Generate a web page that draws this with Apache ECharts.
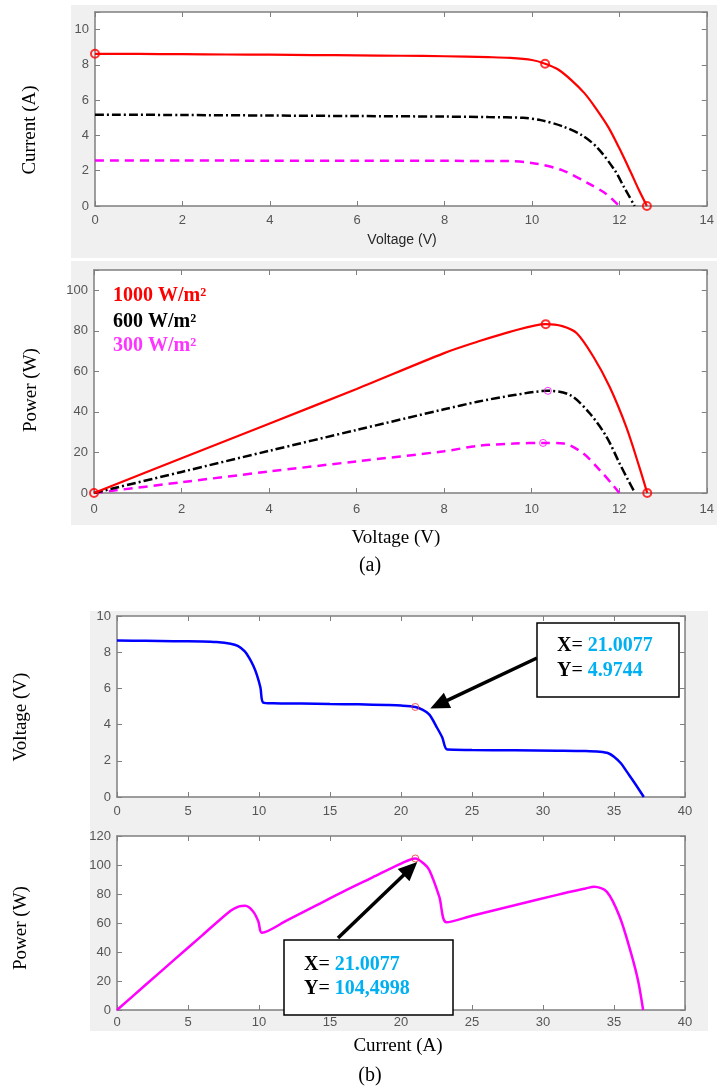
<!DOCTYPE html>
<html>
<head>
<meta charset="utf-8">
<style>
  html, body { margin: 0; padding: 0; background: #fff; }
  #chart { width: 717px; height: 1090px; }
</style>
<script src="https://cdn.jsdelivr.net/npm/echarts@6/dist/echarts.min.js"></script>
</head>
<body>
<div id="chart"></div>
<script>
// ---- (a) I-V curves, three irradiance levels ----
var ivRedV = [0, 1, 2, 3, 4, 5, 6, 7, 8, 9, 9.5, 10, 10.3, 10.6, 10.9, 11.2, 11.45, 11.75, 12.0, 12.25, 12.45, 12.63];
var ivRedI = [8.63, 8.62, 8.61, 8.59, 8.58, 8.56, 8.54, 8.52, 8.49, 8.44, 8.40, 8.28, 8.07, 7.74, 7.14, 6.40, 5.58, 4.46, 3.27, 1.97, 0.89, 0];
var ivBlkV = [0, 2, 4, 6, 8, 9, 9.8, 10.2, 10.7, 11.15, 11.5, 11.9, 12.1, 12.35];
var ivBlkI = [5.18, 5.16, 5.13, 5.10, 5.07, 5.04, 5.00, 4.87, 4.52, 4.00, 3.30, 2.00, 1.10, 0];
var ivMagV = [0, 2, 4, 6, 8, 9.4, 10.1, 10.7, 11.3, 11.7, 12.0];
var ivMagI = [2.58, 2.58, 2.57, 2.57, 2.56, 2.55, 2.40, 2.02, 1.27, 0.68, 0];
var ivMarkV = [0, 10.3, 12.63];
var ivMarkI = [8.63, 8.07, 0];

// ---- (a) P-V curves ----
var pvRedV = [0, 2, 4, 6, 8, 8.76, 9.5, 10.32, 10.7, 11.03, 11.41, 11.78, 12.16, 12.46, 12.64];
var pvRedP = [0, 17.1, 34.2, 51.3, 69.0, 74.6, 79.5, 83.3, 82.3, 78.8, 67.2, 52.4, 32.6, 12.8, 0];
var pvBlkV = [0, 2, 4, 6, 8, 8.76, 9.6, 10.37, 10.88, 11.33, 11.71, 12.01, 12.2, 12.36];
var pvBlkP = [0, 10.4, 20.8, 31.1, 41.3, 45.0, 48.3, 50.4, 48.3, 39.2, 27.7, 14.5, 6.5, 0];
var pvMagV = [0, 2, 4, 6, 8, 8.76, 9.6, 10.26, 10.73, 11.18, 11.56, 11.86, 12.0];
var pvMagP = [0, 5.3, 10.6, 15.6, 20.6, 23.2, 24.4, 24.7, 24.4, 19.5, 11.2, 3.8, 0];
var pvRedMarkV = [0, 10.32, 12.64];
var pvRedMarkP = [0, 83.3, 0];
var pvMagMarkV = [10.37, 10.26];
var pvMagMarkP = [50.4, 24.7];
var legendTexts = ['1000 W/m\u00b2', '600 W/m\u00b2', '300 W/m\u00b2'];

// ---- (b) V-I and P-I of the partially shaded string ----
var viI = [0, 2, 4, 6, 7, 8, 8.5, 9.0, 9.3, 9.6, 9.85, 10.1, 10.3, 11, 13, 15, 17, 19, 20, 21.0077, 21.5, 22.0, 22.5, 22.9, 23.27, 25, 28, 31, 33, 34, 34.6, 35.0, 35.5, 35.9, 36.5, 37.1];
var viV = [8.65, 8.63, 8.61, 8.59, 8.56, 8.47, 8.35, 8.05, 7.70, 7.25, 6.75, 6.05, 5.22, 5.18, 5.16, 5.14, 5.12, 5.08, 5.05, 4.9744, 4.83, 4.55, 3.88, 3.30, 2.62, 2.60, 2.58, 2.56, 2.54, 2.50, 2.42, 2.22, 1.85, 1.40, 0.72, 0];
var piI = [0, 2, 4, 6, 8, 8.6, 9.03, 9.6, 9.96, 10.2, 12, 14, 16, 18, 20, 21.0077, 21.6, 22.0, 22.7, 23.2, 25, 28, 31, 33, 33.6, 34.5, 35.4, 36.2, 36.7, 37.05];
var piP = [0, 17.2, 34.4, 51.5, 68.5, 71.5, 71.9, 67.8, 60.9, 53.3, 62, 72, 82, 91.5, 101, 104.4998, 101, 96.4, 78, 60.5, 65, 72.2, 79.4, 83.8, 85, 81.5, 64.3, 39.2, 20, 0];
var mppI = 21.0077, mppV = 4.9744, mppP = 104.4998;

function zip(xs, ys) { return xs.map(function (x, i) { return [x, ys[i]]; }); }

var serif = '"Liberation Serif", "Times New Roman", serif';
var sans = '"Liberation Sans", Arial, sans-serif';
var axisGray = '#7f7f7f';

var grids = [
  { left: 95, top: 12, width: 616, height: 194 },
  { left: 94, top: 270, width: 617, height: 223 },
  { left: 117, top: 616, width: 568, height: 181 },
  { left: 117, top: 836, width: 568, height: 174 }
];
var xRanges = [[0, 14, 2], [0, 14, 2], [0, 40, 5], [0, 40, 5]];
var yRanges = [[0, 11, 2], [0, 110, 20], [0, 10, 2], [0, 120, 20]];
var xMargins = [8, 10, 8, 6];

var xAxes = [], yAxes = [];
grids.forEach(function (g, i) {
  var xr = xRanges[i], yr = yRanges[i];
  var labelFmt = function (step) {
    return function (v) { return Math.abs(v / step - Math.round(v / step)) < 1e-6 ? String(v) : ''; };
  };
  [false, true].forEach(function (other) {
    xAxes.push({
      type: 'value', gridIndex: i, min: xr[0], max: xr[1], interval: xr[2],
      position: other ? 'top' : 'bottom',
      axisLine: { show: true, onZero: false, lineStyle: { color: axisGray, width: 1.5 } },
      axisTick: { show: true, inside: true, length: 5, lineStyle: { color: axisGray, width: 1 } },
      axisLabel: { show: !other, color: '#555', fontFamily: sans, fontSize: 13, margin: xMargins[i], formatter: labelFmt(xr[2]) },
      splitLine: { show: false }
    });
    yAxes.push({
      type: 'value', gridIndex: i, min: yr[0], max: yr[1], interval: yr[2],
      position: other ? 'right' : 'left',
      axisLine: { show: true, onZero: false, lineStyle: { color: axisGray, width: 1.5 } },
      axisTick: { show: true, inside: true, length: 5, lineStyle: { color: axisGray, width: 1 } },
      axisLabel: { show: !other, color: '#555', fontFamily: sans, fontSize: 13, margin: 6, formatter: labelFmt(yr[2]) },
      splitLine: { show: false }
    });
  });
});

function line(gi, data, color, width, type) {
  return {
    type: 'line', xAxisIndex: 2 * gi, yAxisIndex: 2 * gi, data: data,
    showSymbol: false, smooth: 0.3, animation: false,
    lineStyle: { color: color, width: width, type: type || 'solid' }, z: 3
  };
}
function marks(gi, data, color, size, bw) {
  return {
    type: 'scatter', xAxisIndex: 2 * gi, yAxisIndex: 2 * gi, data: data, clip: false,
    symbol: 'circle', symbolSize: size, animation: false,
    itemStyle: { color: 'transparent', borderColor: color, borderWidth: bw }, z: 5
  };
}

var dashDot = [9, 3, 2, 3];
var dashed = [9, 6];

var series = [
  line(0, zip(ivMagV, ivMagI), '#ff00ff', 2.5, dashed),
  line(0, zip(ivBlkV, ivBlkI), '#000000', 2.5, dashDot),
  line(0, zip(ivRedV, ivRedI), '#ff0000', 2.2),
  marks(0, zip(ivMarkV, ivMarkI), '#ff0000', 8, 2),
  line(1, zip(pvMagV, pvMagP), '#ff00ff', 2.5, dashed),
  line(1, zip(pvBlkV, pvBlkP), '#000000', 2.5, dashDot),
  line(1, zip(pvRedV, pvRedP), '#ff0000', 2.2),
  marks(1, zip(pvRedMarkV, pvRedMarkP), '#ff0000', 8, 2),
  marks(1, zip(pvMagMarkV, pvMagMarkP), '#ff00ff', 7, 1),
  line(2, zip(viI, viV), '#0000ff', 2.5),
  marks(2, [[mppI, mppV]], '#ff2a2a', 7, 1),
  line(3, zip(piI, piP), '#ff00ff', 2.5),
  marks(3, [[mppI, mppP]], '#ff2a2a', 7, 1)
];

var bg = [
  { type: 'rect', shape: { x: 71, y: 5, width: 646, height: 253 }, style: { fill: '#f0f0f0' }, z: -10 },
  { type: 'rect', shape: { x: 71, y: 261, width: 646, height: 264 }, style: { fill: '#f0f0f0' }, z: -10 },
  { type: 'rect', shape: { x: 90, y: 611, width: 618, height: 420 }, style: { fill: '#f0f0f0' }, z: -10 }
];

function txt(x, y, s, font, opts) {
  opts = opts || {};
  return {
    type: 'text', x: x, y: y, rotation: opts.rot || 0, z: opts.z || 50,
    style: {
      text: s, fontFamily: font, fontSize: opts.size || 19, fontWeight: opts.weight || 'normal',
      fill: opts.color || '#000', align: opts.align || 'center', verticalAlign: 'middle'
    }
  };
}
var R = Math.PI / 2;
var labels = [
  txt(30, 130, 'Current (A)', serif, { rot: R }),
  txt(402, 240, 'Voltage (V)', sans, { size: 14, color: '#262626' }),
  txt(31, 390, 'Power (W)', serif, { rot: R }),
  txt(396, 538, 'Voltage (V)', serif),
  txt(370, 566, '(a)', serif, { size: 20 }),
  txt(21, 717, 'Voltage (V)', serif, { rot: R }),
  txt(21, 928, 'Power (W)', serif, { rot: R }),
  txt(398, 1046, 'Current (A)', serif),
  txt(370, 1076, '(b)', serif, { size: 20 })
];
var legendColors = ['#ff0000', '#000000', '#ff33ff'];
var legendY = [296, 322, 346];
legendTexts.forEach(function (s, i) {
  labels.push(txt(113, legendY[i], s, serif, { size: 20, weight: 'bold', color: legendColors[i], align: 'left' }));
});

var chart = echarts.init(document.getElementById('chart'), null, { renderer: 'canvas' });
chart.setOption({
  backgroundColor: '#ffffff',
  animation: false,
  grid: grids.map(function (g) {
    return { left: g.left, top: g.top, width: g.width, height: g.height, show: true, backgroundColor: '#ffffff', borderWidth: 0, containLabel: false };
  }),
  xAxis: xAxes,
  yAxis: yAxes,
  series: series,
  graphic: bg.concat(labels)
});

// text width helper for the data-tip pieces
var measureCtx = document.createElement('canvas').getContext('2d');
function textW(s, weight) {
  measureCtx.font = weight + ' 20px ' + serif;
  return measureCtx.measureText(s).width;
}

// data-tip annotation boxes with arrows
function annotation(gi, xv, yv, box, yText, tipOff, from) {
  var p = chart.convertToPixel({ xAxisIndex: 2 * gi, yAxisIndex: 2 * gi }, [xv, yv]);
  var tip = [p[0] + tipOff[0], p[1] + tipOff[1]];
  var dx = tip[0] - from[0], dy = tip[1] - from[1];
  var len = Math.sqrt(dx * dx + dy * dy), ux = dx / len, uy = dy / len;
  var hl = 19, hw = 8.5;
  var bx = tip[0] - ux * hl, by = tip[1] - uy * hl;
  var yStr = String(yv);
  if (gi === 3) yStr = yStr.replace('.', ',');
  var out = [
    { type: 'line', z: 60, shape: { x1: from[0], y1: from[1], x2: bx + ux * 2, y2: by + uy * 2 }, style: { stroke: '#000', lineWidth: 3.5 } },
    { type: 'polygon', z: 60, shape: { points: [tip, [bx - uy * hw, by + ux * hw], [bx + uy * hw, by - ux * hw]] }, style: { fill: '#000' } },
    { type: 'rect', z: 61, shape: box, style: { fill: '#fff', stroke: '#000', lineWidth: 1.5 } }
  ];
  [['X', String(xv)], ['Y', yStr]].forEach(function (row, k) {
    var x0 = box.x + 20;
    var x1 = x0 + textW(row[0], 'bold');
    var x2 = x1 + textW('= ', 'normal');
    out.push(txt(x0, yText[k], row[0], serif, { size: 20, weight: 'bold', align: 'left', z: 62 }));
    out.push(txt(x1, yText[k], '= ', serif, { size: 20, align: 'left', z: 62 }));
    out.push(txt(x2, yText[k], row[1], serif, { size: 20, weight: 'bold', color: '#00b0f0', align: 'left', z: 62 }));
  });
  return out;
}

var ann = annotation(2, mppI, mppV, { x: 537, y: 623, width: 142, height: 74 }, [646, 671], [15, 1.5], [537, 658])
  .concat(annotation(3, mppI, mppP, { x: 284, y: 940, width: 169, height: 75 }, [965, 989], [2, 3.5], [338, 938]));

chart.setOption({ graphic: bg.concat(labels, ann) });

window.addEventListener('resize', function () { chart.resize(); });
</script>
</body>
</html>
